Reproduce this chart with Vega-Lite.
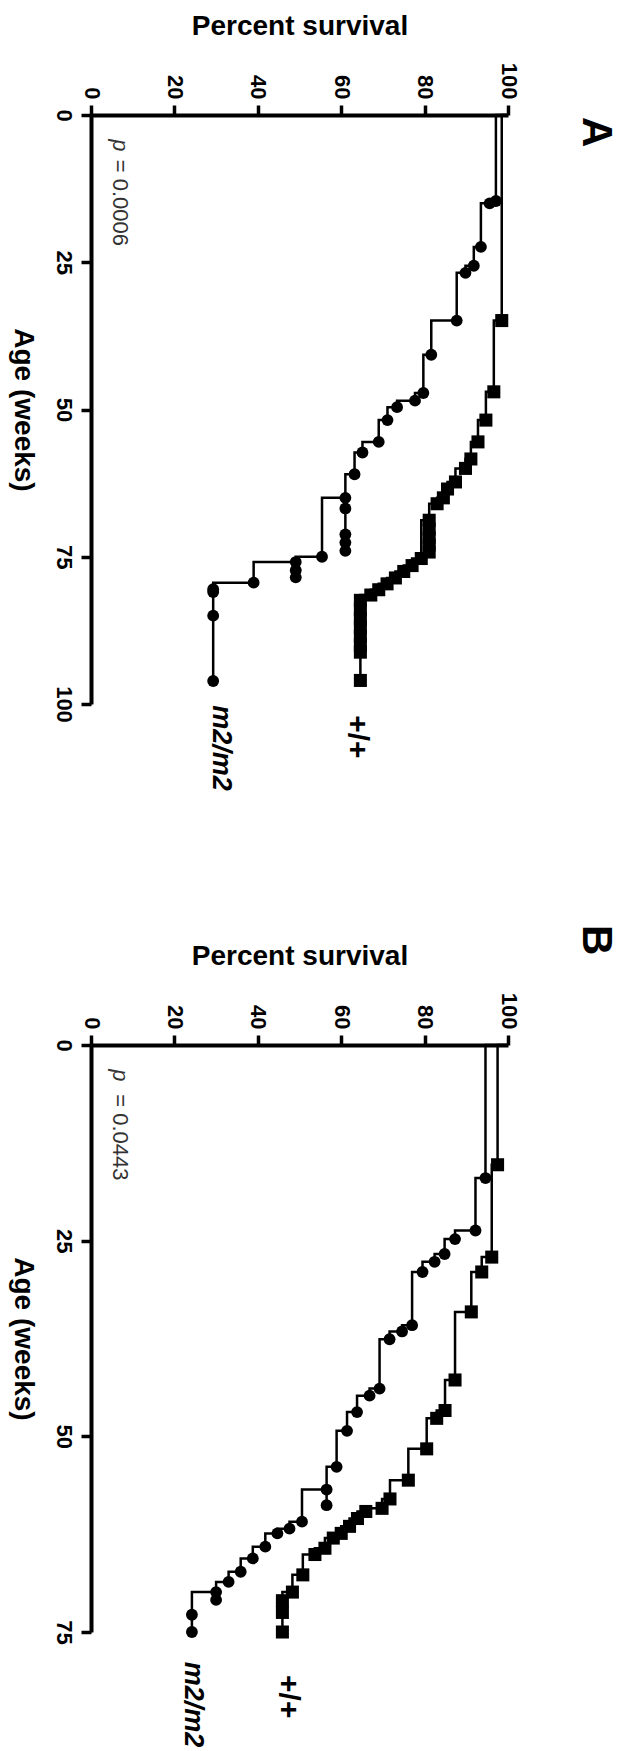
{
  "$schema": "https://vega.github.io/schema/vega-lite/v6.json",
  "background": "white",
  "padding": {"left": 8, "top": 12, "right": 5, "bottom": 5},
  "bounds": "flush",
  "spacing": 341,
  "config": {
    "view": {"stroke": null},
    "axis": {
      "grid": false,
      "domainColor": "black", "domainWidth": 4,
      "tickColor": "black", "tickWidth": 3.5, "tickSize": 10,
      "labelFont": "Liberation Sans", "labelFontWeight": "bold", "labelFontSize": 22, "labelColor": "black",
      "titleFont": "Liberation Sans", "titleFontWeight": "bold", "titleFontSize": 28, "titleColor": "black",
      "labelAngle": 90, "labelFlush": false, "labelOverlap": false
    }
  },
  "datasets": {
    "km": [
      {"panel":"A","g":"m2/m2","age":0,"pct":100},
      {"panel":"A","g":"m2/m2","age":14.6,"pct":97.1},
      {"panel":"A","g":"m2/m2","age":15.0,"pct":95.6},
      {"panel":"A","g":"m2/m2","age":22.4,"pct":93.5},
      {"panel":"A","g":"m2/m2","age":25.6,"pct":91.8},
      {"panel":"A","g":"m2/m2","age":26.8,"pct":89.8},
      {"panel":"A","g":"m2/m2","age":34.9,"pct":87.7},
      {"panel":"A","g":"m2/m2","age":40.7,"pct":81.6},
      {"panel":"A","g":"m2/m2","age":47.2,"pct":79.7},
      {"panel":"A","g":"m2/m2","age":48.5,"pct":77.7},
      {"panel":"A","g":"m2/m2","age":49.6,"pct":73.4},
      {"panel":"A","g":"m2/m2","age":51.8,"pct":71.1},
      {"panel":"A","g":"m2/m2","age":55.5,"pct":69.0},
      {"panel":"A","g":"m2/m2","age":57.3,"pct":65.1},
      {"panel":"A","g":"m2/m2","age":61.0,"pct":63.2},
      {"panel":"A","g":"m2/m2","age":65.0,"pct":61.0},
      {"panel":"A","g":"m2/m2","age":66.8,"pct":61.0},
      {"panel":"A","g":"m2/m2","age":71.2,"pct":61.0},
      {"panel":"A","g":"m2/m2","age":72.6,"pct":61.0},
      {"panel":"A","g":"m2/m2","age":74.0,"pct":61.0},
      {"panel":"A","g":"m2/m2","age":75.0,"pct":55.4},
      {"panel":"A","g":"m2/m2","age":75.9,"pct":49.1},
      {"panel":"A","g":"m2/m2","age":77.3,"pct":49.1},
      {"panel":"A","g":"m2/m2","age":78.5,"pct":49.1},
      {"panel":"A","g":"m2/m2","age":79.4,"pct":39.0},
      {"panel":"A","g":"m2/m2","age":80.5,"pct":29.3},
      {"panel":"A","g":"m2/m2","age":81.0,"pct":29.3},
      {"panel":"A","g":"m2/m2","age":85.0,"pct":29.3},
      {"panel":"A","g":"m2/m2","age":96.1,"pct":29.3},
      {"panel":"A","g":"+/+","age":0,"pct":100},
      {"panel":"A","g":"+/+","age":34.9,"pct":98.5},
      {"panel":"A","g":"+/+","age":47.0,"pct":96.6},
      {"panel":"A","g":"+/+","age":51.8,"pct":94.7},
      {"panel":"A","g":"+/+","age":55.5,"pct":92.8},
      {"panel":"A","g":"+/+","age":58.4,"pct":91.1},
      {"panel":"A","g":"+/+","age":60.0,"pct":89.8},
      {"panel":"A","g":"+/+","age":62.3,"pct":87.4},
      {"panel":"A","g":"+/+","age":63.5,"pct":85.5},
      {"panel":"A","g":"+/+","age":65.0,"pct":84.5},
      {"panel":"A","g":"+/+","age":66.0,"pct":83.0},
      {"panel":"A","g":"+/+","age":68.8,"pct":81.1},
      {"panel":"A","g":"+/+","age":70.3,"pct":81.1},
      {"panel":"A","g":"+/+","age":71.8,"pct":81.1},
      {"panel":"A","g":"+/+","age":73.0,"pct":81.1},
      {"panel":"A","g":"+/+","age":74.2,"pct":81.1},
      {"panel":"A","g":"+/+","age":75.3,"pct":79.2},
      {"panel":"A","g":"+/+","age":76.5,"pct":77.0},
      {"panel":"A","g":"+/+","age":77.5,"pct":75.0},
      {"panel":"A","g":"+/+","age":78.6,"pct":73.0},
      {"panel":"A","g":"+/+","age":79.6,"pct":71.0},
      {"panel":"A","g":"+/+","age":80.6,"pct":69.0},
      {"panel":"A","g":"+/+","age":81.5,"pct":67.1},
      {"panel":"A","g":"+/+","age":82.4,"pct":64.6},
      {"panel":"A","g":"+/+","age":84.0,"pct":64.6},
      {"panel":"A","g":"+/+","age":85.5,"pct":64.6},
      {"panel":"A","g":"+/+","age":87.0,"pct":64.6},
      {"panel":"A","g":"+/+","age":88.5,"pct":64.6},
      {"panel":"A","g":"+/+","age":90.0,"pct":64.6},
      {"panel":"A","g":"+/+","age":91.2,"pct":64.6},
      {"panel":"A","g":"+/+","age":96.0,"pct":64.6},
      {"panel":"B","g":"m2/m2","age":0,"pct":100},
      {"panel":"B","g":"m2/m2","age":17.0,"pct":94.6},
      {"panel":"B","g":"m2/m2","age":23.7,"pct":92.2},
      {"panel":"B","g":"m2/m2","age":24.8,"pct":87.3},
      {"panel":"B","g":"m2/m2","age":26.7,"pct":84.8},
      {"panel":"B","g":"m2/m2","age":27.7,"pct":82.4},
      {"panel":"B","g":"m2/m2","age":29.0,"pct":79.5},
      {"panel":"B","g":"m2/m2","age":35.8,"pct":77.0},
      {"panel":"B","g":"m2/m2","age":36.6,"pct":74.6},
      {"panel":"B","g":"m2/m2","age":37.6,"pct":71.6},
      {"panel":"B","g":"m2/m2","age":43.9,"pct":69.2},
      {"panel":"B","g":"m2/m2","age":44.8,"pct":66.8},
      {"panel":"B","g":"m2/m2","age":46.9,"pct":63.8},
      {"panel":"B","g":"m2/m2","age":49.3,"pct":61.4},
      {"panel":"B","g":"m2/m2","age":53.9,"pct":58.9},
      {"panel":"B","g":"m2/m2","age":56.8,"pct":56.5},
      {"panel":"B","g":"m2/m2","age":58.8,"pct":56.5},
      {"panel":"B","g":"m2/m2","age":60.9,"pct":50.6},
      {"panel":"B","g":"m2/m2","age":61.8,"pct":47.6},
      {"panel":"B","g":"m2/m2","age":62.4,"pct":44.7},
      {"panel":"B","g":"m2/m2","age":64.1,"pct":41.8},
      {"panel":"B","g":"m2/m2","age":65.6,"pct":38.8},
      {"panel":"B","g":"m2/m2","age":67.3,"pct":35.9},
      {"panel":"B","g":"m2/m2","age":68.6,"pct":33.0},
      {"panel":"B","g":"m2/m2","age":69.9,"pct":30.0},
      {"panel":"B","g":"m2/m2","age":70.9,"pct":30.0},
      {"panel":"B","g":"m2/m2","age":72.8,"pct":24.2},
      {"panel":"B","g":"m2/m2","age":75.0,"pct":24.2},
      {"panel":"B","g":"+/+","age":0,"pct":100},
      {"panel":"B","g":"+/+","age":15.3,"pct":97.5},
      {"panel":"B","g":"+/+","age":27.1,"pct":96.1},
      {"panel":"B","g":"+/+","age":29.0,"pct":93.7},
      {"panel":"B","g":"+/+","age":34.1,"pct":91.2},
      {"panel":"B","g":"+/+","age":42.8,"pct":87.3},
      {"panel":"B","g":"+/+","age":46.7,"pct":84.9},
      {"panel":"B","g":"+/+","age":47.7,"pct":82.9},
      {"panel":"B","g":"+/+","age":51.6,"pct":80.5},
      {"panel":"B","g":"+/+","age":55.6,"pct":76.1},
      {"panel":"B","g":"+/+","age":58.0,"pct":71.7},
      {"panel":"B","g":"+/+","age":59.2,"pct":69.8},
      {"panel":"B","g":"+/+","age":59.6,"pct":65.9},
      {"panel":"B","g":"+/+","age":60.5,"pct":63.9},
      {"panel":"B","g":"+/+","age":61.5,"pct":62.0},
      {"panel":"B","g":"+/+","age":62.4,"pct":60.0},
      {"panel":"B","g":"+/+","age":63.0,"pct":58.1},
      {"panel":"B","g":"+/+","age":64.3,"pct":56.1},
      {"panel":"B","g":"+/+","age":65.1,"pct":53.7},
      {"panel":"B","g":"+/+","age":67.7,"pct":50.8},
      {"panel":"B","g":"+/+","age":69.9,"pct":48.3},
      {"panel":"B","g":"+/+","age":71.0,"pct":45.9},
      {"panel":"B","g":"+/+","age":72.5,"pct":45.9},
      {"panel":"B","g":"+/+","age":75.0,"pct":45.9}
    ],
    "lbl": [
      {"panel":"A","kind":"letter","text":"A","pct":121,"age":2.9},
      {"panel":"A","kind":"geno_it","text":"m2/m2","pct":31.2,"age":100.2},
      {"panel":"A","kind":"geno","text":"+/+","pct":63.7,"age":101.9},
      {"panel":"A","kind":"p","text":"p","pct":7.0,"age":4.1},
      {"panel":"A","kind":"pv","text":"= 0.0006","pct":7.0,"age":7.6},
      {"panel":"B","kind":"letter","text":"B","pct":121,"age":-13.4},
      {"panel":"B","kind":"geno_it","text":"m2/m2","pct":24.4,"age":78.8},
      {"panel":"B","kind":"geno","text":"+/+","pct":47.2,"age":80.5},
      {"panel":"B","kind":"p","text":"p","pct":7.0,"age":3.1},
      {"panel":"B","kind":"pv","text":"= 0.0443","pct":7.0,"age":6.3}
    ]
  },
  "vconcat": [
    {
      "width": 417, "height": 589,
      "encoding": {
        "x": {"field": "pct", "type": "quantitative",
              "scale": {"domain": [0, 100], "nice": false, "zero": false},
              "axis": {"orient": "top", "values": [0, 20, 40, 60, 80, 100], "title": "Percent survival",
                       "labelAlign": "right", "labelBaseline": "middle", "labelPadding": 6, "titlePadding": 22}},
        "y": {"field": "age", "type": "quantitative",
              "scale": {"domain": [0, 100], "reverse": true, "nice": false, "zero": false},
              "axis": {"orient": "left", "values": [0, 25, 50, 75, 100], "title": "Age (weeks)",
                       "titleAngle": 90, "titleBaseline": "top", "labelAlign": "center", "labelBaseline": "top",
                       "labelPadding": 8, "titlePadding": 16}}
      },
      "layer": [
        {"data": {"name": "km"}, "transform": [{"filter": "datum.panel === 'A'"}],
         "mark": {"type": "line", "interpolate": "step-before", "color": "black", "strokeWidth": 2.5},
         "encoding": {"detail": {"field": "g"}, "order": [{"field": "age"}, {"field": "pct", "sort": "descending"}]}},
        {"data": {"name": "km"}, "transform": [{"filter": "datum.panel === 'A' && datum.g === 'm2/m2' && datum.age > 0"}],
         "mark": {"type": "point", "shape": "circle", "filled": true, "color": "black", "opacity": 1, "size": 140}},
        {"data": {"name": "km"}, "transform": [{"filter": "datum.panel === 'A' && datum.g === '+/+' && datum.age > 0"}],
         "mark": {"type": "point", "shape": "square", "filled": true, "color": "black", "opacity": 1, "size": 170}},
        {"data": {"name": "lbl"}, "transform": [{"filter": "datum.panel === 'A' && datum.kind === 'letter'"}],
         "mark": {"type": "text", "angle": 90, "align": "center", "baseline": "middle", "font": "Liberation Sans", "fontWeight": "bold", "fontSize": 42, "color": "black"},
         "encoding": {"text": {"field": "text"}}},
        {"data": {"name": "lbl"}, "transform": [{"filter": "datum.panel === 'A' && datum.kind === 'geno_it'"}],
         "mark": {"type": "text", "angle": 90, "align": "left", "baseline": "middle", "font": "Liberation Sans", "fontWeight": "bold", "fontStyle": "italic", "fontSize": 27, "color": "black"},
         "encoding": {"text": {"field": "text"}}},
        {"data": {"name": "lbl"}, "transform": [{"filter": "datum.panel === 'A' && datum.kind === 'geno'"}],
         "mark": {"type": "text", "angle": 90, "align": "left", "baseline": "middle", "font": "Liberation Sans", "fontWeight": "bold", "fontSize": 30, "color": "black"},
         "encoding": {"text": {"field": "text"}}},
        {"data": {"name": "lbl"}, "transform": [{"filter": "datum.panel === 'A' && datum.kind === 'p'"}],
         "mark": {"type": "text", "angle": 90, "align": "left", "baseline": "middle", "font": "Liberation Sans", "fontStyle": "italic", "fontSize": 22, "color": "#333333"},
         "encoding": {"text": {"field": "text"}}},
        {"data": {"name": "lbl"}, "transform": [{"filter": "datum.panel === 'A' && datum.kind === 'pv'"}],
         "mark": {"type": "text", "angle": 90, "align": "left", "baseline": "middle", "font": "Liberation Sans", "fontSize": 22, "color": "#333333"},
         "encoding": {"text": {"field": "text"}}}
      ]
    },
    {
      "width": 417, "height": 587,
      "encoding": {
        "x": {"field": "pct", "type": "quantitative",
              "scale": {"domain": [0, 100], "nice": false, "zero": false},
              "axis": {"orient": "top", "values": [0, 20, 40, 60, 80, 100], "title": "Percent survival",
                       "labelAlign": "right", "labelBaseline": "middle", "labelPadding": 6, "titlePadding": 22}},
        "y": {"field": "age", "type": "quantitative",
              "scale": {"domain": [0, 75], "reverse": true, "nice": false, "zero": false},
              "axis": {"orient": "left", "values": [0, 25, 50, 75], "title": "Age (weeks)",
                       "titleAngle": 90, "titleBaseline": "top", "labelAlign": "center", "labelBaseline": "top",
                       "labelPadding": 8, "titlePadding": 16}}
      },
      "layer": [
        {"data": {"name": "km"}, "transform": [{"filter": "datum.panel === 'B'"}],
         "mark": {"type": "line", "interpolate": "step-before", "color": "black", "strokeWidth": 2.5},
         "encoding": {"detail": {"field": "g"}, "order": [{"field": "age"}, {"field": "pct", "sort": "descending"}]}},
        {"data": {"name": "km"}, "transform": [{"filter": "datum.panel === 'B' && datum.g === 'm2/m2' && datum.age > 0"}],
         "mark": {"type": "point", "shape": "circle", "filled": true, "color": "black", "opacity": 1, "size": 140}},
        {"data": {"name": "km"}, "transform": [{"filter": "datum.panel === 'B' && datum.g === '+/+' && datum.age > 0"}],
         "mark": {"type": "point", "shape": "square", "filled": true, "color": "black", "opacity": 1, "size": 170}},
        {"data": {"name": "lbl"}, "transform": [{"filter": "datum.panel === 'B' && datum.kind === 'letter'"}],
         "mark": {"type": "text", "angle": 90, "align": "center", "baseline": "middle", "font": "Liberation Sans", "fontWeight": "bold", "fontSize": 42, "color": "black"},
         "encoding": {"text": {"field": "text"}}},
        {"data": {"name": "lbl"}, "transform": [{"filter": "datum.panel === 'B' && datum.kind === 'geno_it'"}],
         "mark": {"type": "text", "angle": 90, "align": "left", "baseline": "middle", "font": "Liberation Sans", "fontWeight": "bold", "fontStyle": "italic", "fontSize": 27, "color": "black"},
         "encoding": {"text": {"field": "text"}}},
        {"data": {"name": "lbl"}, "transform": [{"filter": "datum.panel === 'B' && datum.kind === 'geno'"}],
         "mark": {"type": "text", "angle": 90, "align": "left", "baseline": "middle", "font": "Liberation Sans", "fontWeight": "bold", "fontSize": 30, "color": "black"},
         "encoding": {"text": {"field": "text"}}},
        {"data": {"name": "lbl"}, "transform": [{"filter": "datum.panel === 'B' && datum.kind === 'p'"}],
         "mark": {"type": "text", "angle": 90, "align": "left", "baseline": "middle", "font": "Liberation Sans", "fontStyle": "italic", "fontSize": 22, "color": "#333333"},
         "encoding": {"text": {"field": "text"}}},
        {"data": {"name": "lbl"}, "transform": [{"filter": "datum.panel === 'B' && datum.kind === 'pv'"}],
         "mark": {"type": "text", "angle": 90, "align": "left", "baseline": "middle", "font": "Liberation Sans", "fontSize": 22, "color": "#333333"},
         "encoding": {"text": {"field": "text"}}}
      ]
    }
  ]
}
